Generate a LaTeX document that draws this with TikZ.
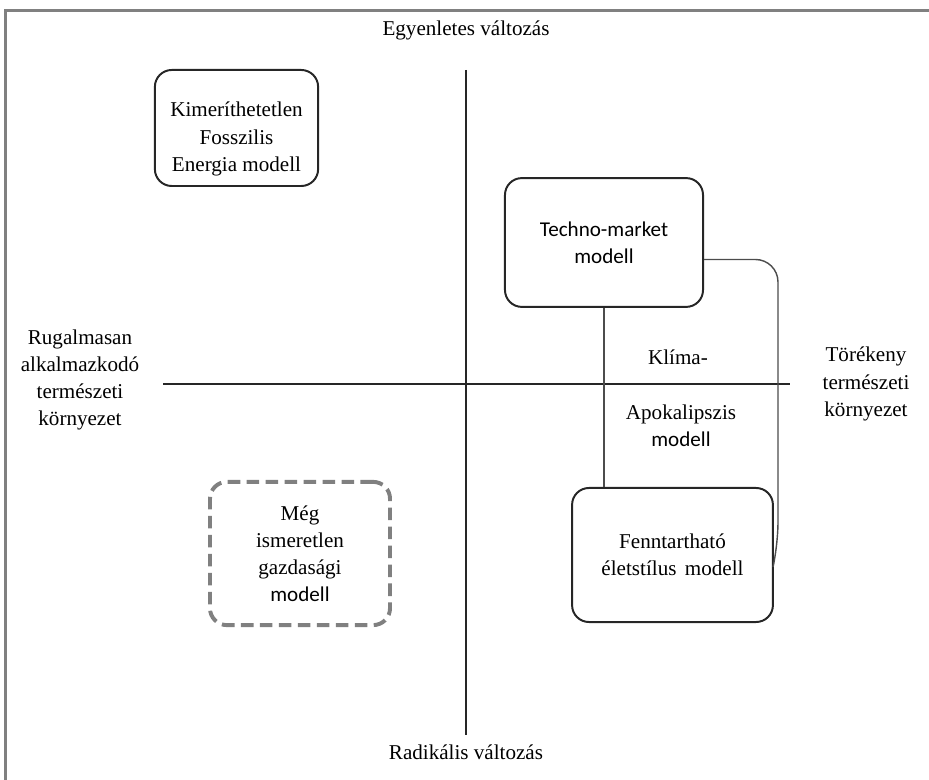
\documentclass[tikz,border=0pt]{standalone}
\usepackage{fontspec}
\setmainfont{Liberation Serif}
\newfontfamily\calibrifont{Carlito}
\usetikzlibrary{calc,positioning}

\begin{document}
\begin{tikzpicture}[x=0.025cm,y=-0.025cm]
	\tikzstyle{every node}=[font=\fontsize{15}{19.3}\selectfont, align=center, inner sep=0pt]
	\tikzstyle{modelbox}=[draw=black!85, line width=1.4pt, rounded corners=12pt]
	\tikzstyle{axis}=[draw=black!85, line width=2pt]
	\tikzstyle{link}=[draw=black!70, line width=1pt]
	
	\useasboundingbox (0,0) rectangle (929,780);
	% keret
	\draw [color=black!50, line width=2.2pt] (5.5,780) -- (5.5,10.5) -- (929,10.5);
	
	% tengelyek
	\coordinate (up) at (466,70);
	\coordinate (down) at (466,735);
	\coordinate (left) at (163,384);
	\coordinate (right) at (790,384);
	\draw [axis] (up) -- (down);
	\draw [axis] (left) -- (right);
	
	\node (egyen) at (466,30) {Egyenletes változás};
	\node (radik) at (466,752) {Radikális változás};
	\node (rugal) at (80,380) {Rugalmasan\\alkalmazkodó\\természeti\\környezet};
	\node (torek) at (866,384) {Törékeny\\természeti\\környezet};
	
	% modellek
	\node [modelbox, minimum width=4.08cm, minimum height=2.9cm] (fossil) at (236.5,128) {\rule{0pt}{26pt}Kimeríthetetlen\\Fosszilis\\Energia modell};
	\node [modelbox, minimum width=4.95cm, minimum height=3.22cm] (techno) at (604,242.5) {\calibrifont Techno-market\\\calibrifont modell};
	\node [modelbox, minimum width=5.02cm, minimum height=3.35cm] (fennt) at (672.5,555) {Fenntartható\\életstílus\hspace{0.15em} modell};
	\node [modelbox, draw=black!50, line width=2.8pt, dash pattern=on 9pt off 4.5pt, minimum width=4.5cm, minimum height=3.58cm] (meg) at (300,553.5) {Még\\ismeretlen\\gazdasági\\\calibrifont modell};
	
	\node (klima) at (678,357) {Klíma-};
	\node (apok) at (681,426) {Apokalipszis\\\calibrifont modell};
	
	% kapcsolatok
	\coordinate (bend) at (778,545);
	\draw [link] (techno.south) -- (techno.south |- fennt.north);
	\draw [link, rounded corners=16pt] ($(techno.east)+(0,17)$) -| (bend) -- ($(fennt.east)+(0,8)$);
	
\end{tikzpicture}
\end{document}
